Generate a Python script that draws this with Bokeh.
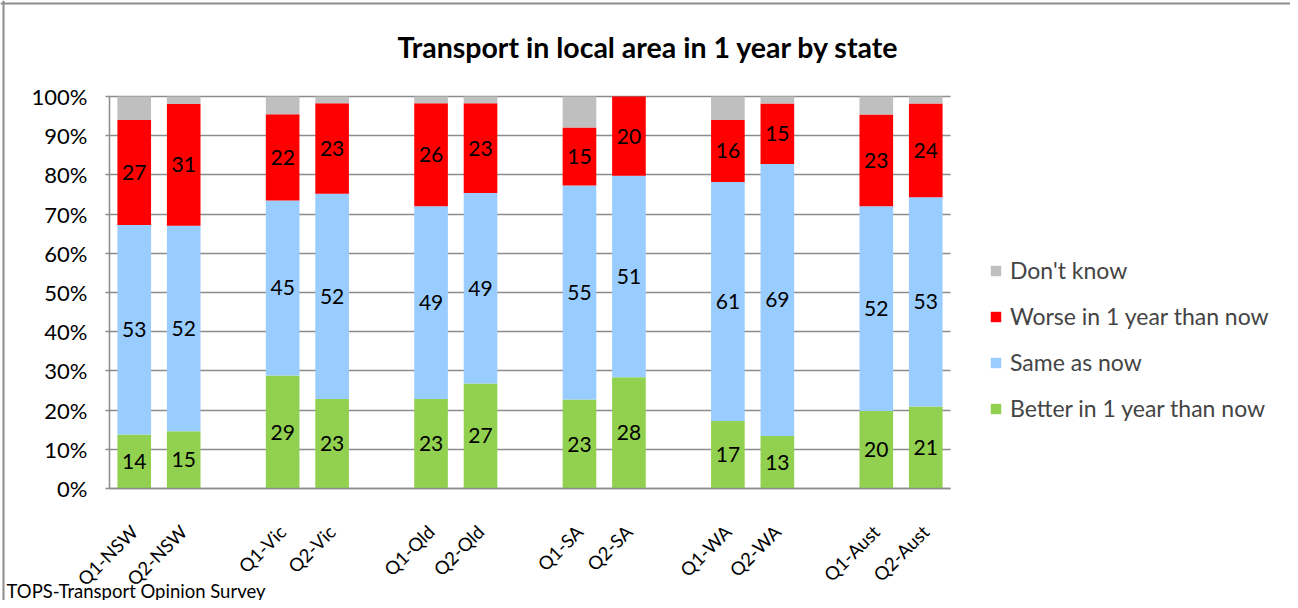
from bokeh.plotting import figure
from bokeh.models import Range1d, FixedTicker, Legend, LegendItem, Label, Span, ColumnDataSource
from bokeh.embed import file_html
from bokeh.resources import INLINE
from bokeh.core.properties import value

categories = ["Q1-NSW", "Q2-NSW", "Q1-Vic", "Q2-Vic", "Q1-Qld", "Q2-Qld",
              "Q1-SA", "Q2-SA", "Q1-WA", "Q2-WA", "Q1-Aust", "Q2-Aust"]
better = [13.8, 14.6, 28.8, 22.8, 22.8, 26.8, 22.7, 28.4, 17.2, 13.4, 19.8, 20.9]
same = [53.4, 52.4, 44.7, 52.4, 49.2, 48.6, 54.6, 51.4, 61.0, 69.4, 52.2, 53.4]
worse = [26.8, 31.1, 22.0, 23.1, 26.3, 22.9, 14.8, 20.2, 15.8, 15.4, 23.4, 23.9]
dont_know = [6.0, 1.9, 4.5, 1.7, 1.7, 1.7, 7.9, 0.0, 6.0, 1.8, 4.6, 1.8]
series_names = ["Better in 1 year than now", "Same as now", "Worse in 1 year than now", "Don't know"]
colors = ["#92D050", "#99CCFF", "#FF0000", "#BFBFBF"]
y_ticks = [0, 10, 20, 30, 40, 50, 60, 70, 80, 90, 100]
y_tick_labels = ["0%", "10%", "20%", "30%", "40%", "50%", "60%", "70%", "80%", "90%", "100%"]
title_text = "Transport in local area in 1 year by state"
source_text = "TOPS-Transport Opinion Survey"

FONT = "Lato"
GRID = "#8c8c8c"

W, H = 1290, 600
# plot-area placement in pixels (figure coordinates)
PL, PR, PT, PB = 109, 950, 96, 488

# positions: pairs per state with one empty slot between groups
xs = [(i // 2) * 3 + (i % 2) for i in range(len(categories))]
x0, x1 = -0.5, 16.5
y0, y1 = 0.0, 100.0
ppx = (PR - PL) / (x1 - x0)
ppy = (PB - PT) / (y1 - y0)
xr = Range1d(x0 - PL / ppx, x1 + (W - PR) / ppx)
yr = Range1d(y0 - (H - PB) / ppy, y1 + PT / ppy)

def px_x(px):
    return x0 + (px - PL) / ppx

def px_y(py):
    return y0 + (PB - py) / ppy

src = ColumnDataSource(dict(x=xs, better=better, same=same, worse=worse, dk=dont_know))

p = figure(width=W, height=H, output_backend="svg", toolbar_location=None,
           x_range=xr, y_range=yr,
           min_border_left=0, min_border_right=0, min_border_top=0, min_border_bottom=0)
p.outline_line_color = None

rs = p.vbar_stack(["better", "same", "worse", "dk"], x="x", width=0.68, source=src,
                  color=colors, line_color=None)

# data labels
lx, ly, lt = [], [], []
for i, x in enumerate(xs):
    base = 0.0
    for vals in (better, same, worse):
        v = vals[i]
        lx.append(x)
        ly.append(base + v / 2)
        lt.append(str(int(round(v))))
        base += v
p.text(x=lx, y=ly, text=lt, text_align="center", text_baseline="middle",
       text_font=value(FONT), text_font_size="21px", text_color="black")

# axes (fixed inside the frame)
p.xaxis.fixed_location = y0
p.xaxis.bounds = (x0, x1)
p.xaxis.ticker = FixedTicker(ticks=xs)
p.xaxis.major_label_overrides = {x: c for x, c in zip(xs, categories)}
p.xaxis.major_label_orientation = 0.785398
p.xaxis.major_label_text_font = FONT
p.xaxis.major_label_text_font_size = "18.5px"
p.xaxis.major_label_text_color = "black"
p.xaxis.major_tick_line_color = None
p.xaxis.minor_tick_line_color = None
p.xaxis.axis_line_color = GRID
p.xaxis.axis_line_width = 1.5
p.xaxis.major_label_standoff = 34

p.yaxis.fixed_location = x0
p.yaxis.bounds = (y0, y1)
p.yaxis.ticker = FixedTicker(ticks=y_ticks)
p.yaxis.major_label_overrides = {t: l for t, l in zip(y_ticks, y_tick_labels)}
p.yaxis.major_label_text_font = FONT
p.yaxis.major_label_text_font_size = "22px"
p.yaxis.major_label_text_color = "black"
p.yaxis.major_tick_line_color = GRID
p.yaxis.major_tick_line_width = 1.5
p.yaxis.major_tick_out = 4
p.yaxis.major_tick_in = 0
p.yaxis.minor_tick_line_color = None
p.yaxis.axis_line_color = GRID
p.yaxis.axis_line_width = 1.5
p.yaxis.major_label_standoff = 18

p.xgrid.grid_line_color = None
p.ygrid.grid_line_color = GRID
p.ygrid.grid_line_width = 1.5
p.ygrid.bounds = (y0, y1)
p.ygrid.cross_bounds = (x0, x1)
p.ygrid.level = "underlay"

# chart-area border (top and left edges)
p.add_layout(Span(location=px_y(3), dimension="width", line_color=GRID, line_width=2))
p.add_layout(Span(location=px_x(3), dimension="height", line_color=GRID, line_width=2))

# legend
items = [LegendItem(label=series_names[k], renderers=[rs[k]]) for k in (3, 2, 1, 0)]
legend = Legend(items=items, location=(989, 178), padding=0, margin=0, spacing=18,
                label_height=22, glyph_height=13, glyph_width=13, label_standoff=8,
                label_text_font=FONT, label_text_font_size="23px",
                border_line_color=None, background_fill_alpha=0)
p.add_layout(legend, "center")

p.add_layout(Label(x=px_x(648), y=px_y(46), text=title_text, text_align="center", text_baseline="middle",
                   text_font=FONT, text_font_style="bold", text_font_size="28.5px", text_color="black"))
p.add_layout(Label(x=px_x(6), y=px_y(590), text=source_text, text_align="left",
                   text_baseline="middle", text_font=FONT, text_font_size="18.5px", text_color="black"))

open("out.html", "w").write(file_html(p, INLINE))
